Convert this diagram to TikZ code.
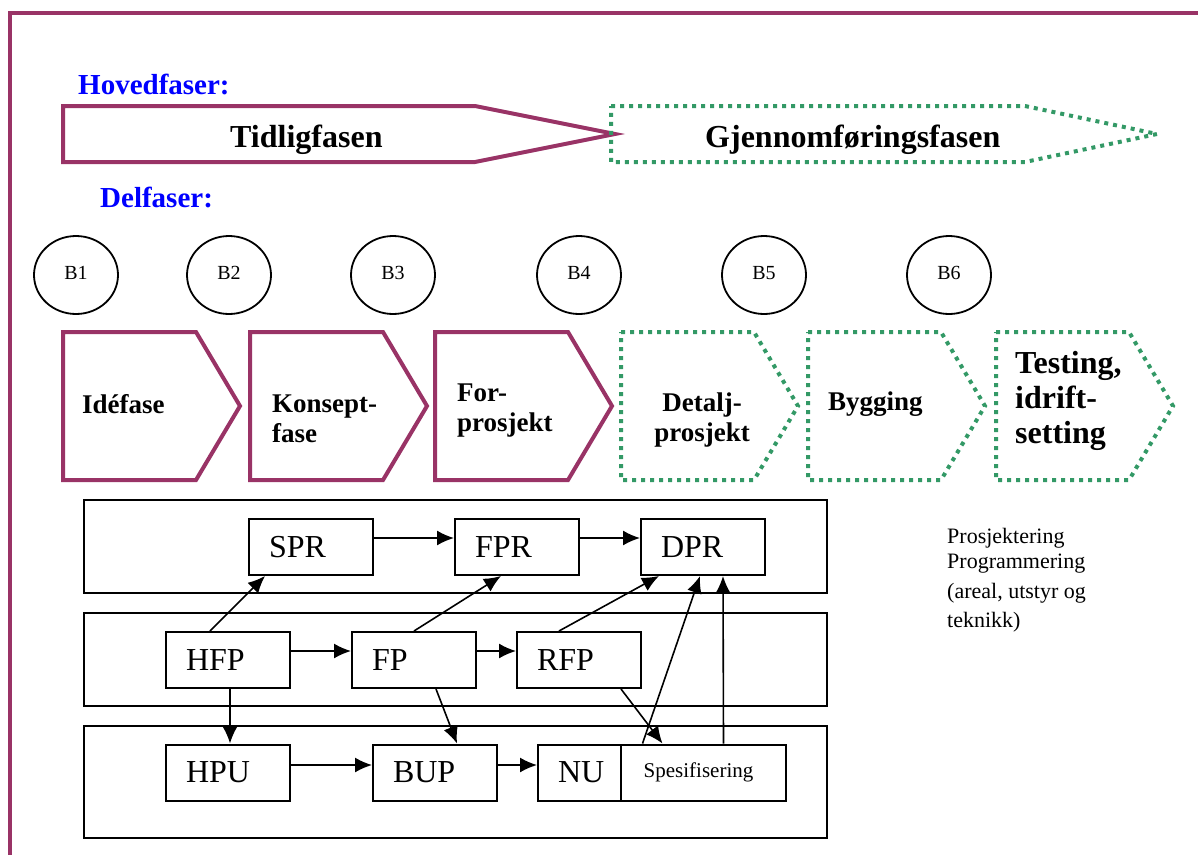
\documentclass[tikz,border=0pt]{standalone}
\usepackage{fontspec}
\setmainfont{Liberation Serif}
\usetikzlibrary{arrows.meta,shapes.geometric}
\definecolor{plum}{RGB}{153,51,102}
\definecolor{sea}{RGB}{51,153,102}
\definecolor{hblue}{RGB}{0,0,255}
\begin{document}
\begin{tikzpicture}[x=1pt,y=-1pt,
  solidphase/.style={draw=plum,line width=4pt,line join=miter},
  dotphase/.style={draw=sea,line width=4pt,dash pattern=on 4pt off 5pt},
  box/.style={draw,line width=2pt,minimum width=124pt,minimum height=56pt,inner xsep=20pt,inner ysep=0pt,text width=84pt,align=left,font=\fontsize{32}{32}\selectfont},
  lane/.style={draw,line width=2pt},
  arr/.style={-{Latex[length=17pt,width=15pt]},line width=1.6pt},
  ms/.style={ellipse,draw,line width=1.8pt,minimum width=84pt,minimum height=78pt,inner sep=0pt,font=\fontsize{20}{20}\selectfont},
  head/.style={text=hblue,font=\bfseries\fontsize{29}{29}\selectfont,inner sep=0pt},
  ptxt/.style={font=\bfseries\fontsize{27}{30}\selectfont,inner sep=0pt,align=left}
]
\useasboundingbox (0,0) rectangle (1198,854);
% frame
\draw[plum,line width=4pt] (10,856) -- (10,13) -- (1200,13);

% headings
\node[head,anchor=base west] (hoved) at (78,94) {Hovedfaser:};
\node[head,anchor=base west] (del) at (100,207) {Delfaser:};

% main phases
\draw[solidphase] (63,106) -- (475,106) -- (615,134) -- (475,162) -- (63,162) -- cycle;
\draw[dotphase] (611,106) -- (1025,106) -- (1157,134) -- (1025,162) -- (611,162) -- cycle;
\node[font=\bfseries\fontsize{32}{32}\selectfont,inner sep=0pt,anchor=base west] (tidlig) at (230,147) {Tidligfasen};
\node[font=\bfseries\fontsize{32}{32}\selectfont,inner sep=0pt,anchor=base west] (gjen) at (705,147) {Gjennomføringsfasen};

% milestones
\node[ms] (b1) at (76,275) {\raisebox{5pt}{B1}};
\node[ms] (b2) at (229,275) {\raisebox{5pt}{B2}};
\node[ms] (b3) at (393,275) {\raisebox{5pt}{B3}};
\node[ms] (b4) at (579,275) {\raisebox{5pt}{B4}};
\node[ms] (b5) at (764,275) {\raisebox{5pt}{B5}};
\node[ms] (b6) at (949,275) {\raisebox{5pt}{B6}};

% sub phases
\foreach \l in {63,250,435}{
  \draw[solidphase] (\l,332) -- (\l+133,332) -- (\l+177,406) -- (\l+133,480) -- (\l,480) -- cycle;
}
\foreach \l in {621,808,996}{
  \draw[dotphase] (\l,332) -- (\l+133,332) -- (\l+177,406) -- (\l+133,480) -- (\l,480) -- cycle;
}
\node[ptxt,anchor=west] (ide) at (82,404) {Idéfase};
\node[ptxt,anchor=west] (kons) at (272,419) {Konsept-\\fase};
\node[ptxt,anchor=west] (forp) at (457,411) {For-\\prosjekt};
\node[ptxt,align=center] (detp) at (702,420) {Detalj-\\prosjekt};
\node[ptxt,anchor=west] (bygg) at (828,404) {Bygging};
\node[ptxt,anchor=west,font=\bfseries\fontsize{32}{35}\selectfont] (test) at (1015,401) {Testing,\\idrift-\\setting};

% lanes
\draw[lane] (84,500) rectangle (827,593);
\draw[lane] (84,613) rectangle (827,706);
\draw[lane] (84,726) rectangle (827,838);

% boxes
\node[box] (spr) at (311,547) {SPR};
\node[box] (fpr) at (517,547) {FPR};
\node[box] (dpr) at (703,547) {DPR};
\node[box] (hfp) at (228,660) {HFP};
\node[box] (fp) at (414,660) {FP};
\node[box] (rfp) at (579,660) {RFP};
\node[box] (hpu) at (228,772.5) {HPU};
\node[box] (bup) at (435,772.5) {BUP};
\node[box,minimum width=104pt,text width=64pt] (nu) at (590,772.5) {NU};
\node[draw,fill=white,line width=2pt,minimum width=165pt,minimum height=56pt,inner sep=0pt,font=\fontsize{21}{21}\selectfont] (spes) at (703.5,772.5) {Spesifisering\hspace*{10pt}};

\node[font=\fontsize{22}{25}\selectfont,align=left,anchor=north west,inner sep=0pt] (prosj) at (947,528) {Prosjektering\\Programmering\\[5pt](areal, utstyr og\\[4pt]teknikk)};

% arrows
\draw[arr] ([yshift=9pt]spr.east) -- ([yshift=9pt]fpr.west);
\draw[arr] ([yshift=9pt]fpr.east) -- ([yshift=9pt]dpr.west);
\draw[arr] ([yshift=9pt]hfp.east) -- ([yshift=9pt]fp.west);
\draw[arr] ([yshift=9pt]fp.east) -- ([yshift=9pt]rfp.west);
\draw[arr] ([yshift=7.5pt]hpu.east) -- ([yshift=7.5pt]bup.west);
\draw[arr] ([yshift=7.5pt]bup.east) -- ([yshift=7.5pt]nu.west);
\draw[arr] ([xshift=-18pt]hfp.north) -- ([xshift=-46pt]spr.south);
\draw[arr] (fp.north) -- ([xshift=-16pt]fpr.south);
\draw[arr] ([xshift=-20pt]rfp.north) -- ([xshift=-44pt]dpr.south);
\draw[arr] ([xshift=2pt]hfp.south) -- ([xshift=2pt]hpu.north);
\draw[arr] ([xshift=22pt]fp.south) -- ([xshift=22pt]bup.north);
\draw[arr] ([xshift=42pt]rfp.south) -- ([xshift=-41pt]spes.north);
\draw[arr] ([xshift=-61pt]spes.north) -- ([xshift=-3pt]dpr.south);
\draw[arr] ([xshift=20pt]spes.north) -- ([xshift=20pt]dpr.south);
\end{tikzpicture}
\end{document}
